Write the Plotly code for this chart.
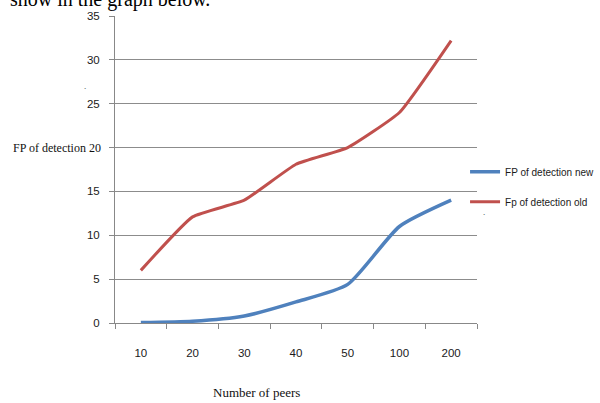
import plotly.graph_objects as go

categories = ["10", "20", "30", "40", "50", "100", "200"]
fp_new = [0.05, 0.2, 0.8, 2.4, 4.4, 11.0, 14.0]
fp_old = [6.0, 12.1, 14.0, 18.1, 20.0, 24.0, 32.2]
y_ticks = [0, 5, 10, 15, 20, 25, 30, 35]
y_tick_text = ["0", "5", "10", "15", "", "25", "30", "35"]

fig = go.Figure()
fig.add_trace(go.Scatter(x=categories, y=fp_new, mode="lines", name="FP of detection new",
                         legendgroup="a",
                         line=dict(color="#4F81BD", width=3.5, shape="spline", smoothing=0.6)))
fig.add_trace(go.Scatter(x=categories, y=fp_old, mode="lines", name="Fp of detection old",
                         legendgroup="b",
                         line=dict(color="#C0504D", width=3, shape="spline", smoothing=0.4)))

tick_font = dict(family="Liberation Sans", size=11.5, color="#1a1a1a")
fig.update_layout(
    width=600, height=403,
    margin=dict(l=115, r=123, t=16, b=80, autoexpand=False),
    paper_bgcolor="white", plot_bgcolor="white",
    showlegend=True,
    legend=dict(x=0.967, y=0.54, xanchor="left", yanchor="top", xref="paper",
                font=dict(family="Liberation Sans", size=10, color="#1a1a1a"),
                itemwidth=30, tracegroupgap=11, bgcolor="rgba(0,0,0,0)"),
    xaxis=dict(type="category", range=[-0.5, 6.5], showgrid=False, automargin=False,
               showline=True, linecolor="#888", linewidth=1,
               ticks="outside", ticklen=5, tickcolor="#888", tickson="boundaries",
               tickfont=tick_font, ticklabelstandoff=19),
    yaxis=dict(range=[0, 35], tickvals=y_ticks, ticktext=y_tick_text,
               showgrid=True, gridcolor="#8c8c8c", gridwidth=1,
               automargin=False,
               showline=True, linecolor="#888", linewidth=1, zeroline=False,
               ticks="outside", ticklen=5, tickcolor="#888",
               tickfont=tick_font, ticklabelstandoff=7),
)

fig.add_annotation(text="Number of peers", xref="paper", yref="paper", x=0, y=0,
                   xanchor="center", yanchor="middle", xshift=141, yshift=-69, showarrow=False,
                   font=dict(family="Liberation Serif", size=13, color="#111"))
fig.add_annotation(text="FP of detection 20", xref="paper", yref="y", x=0, y=20,
                   xanchor="right", yanchor="middle", xshift=-12, showarrow=False,
                   font=dict(family="Liberation Serif", size=12, color="#111"))
fig.add_annotation(text="show in the graph below.", xref="paper", yref="paper", x=0, y=1,
                   xanchor="left", yanchor="bottom", xshift=-107, yshift=3, showarrow=False,
                   font=dict(family="Liberation Serif", size=20, color="#000"))
fig.add_annotation(text=".", xref="paper", yref="y", x=0, y=27, xshift=-33, showarrow=False,
                   font=dict(family="Liberation Serif", size=9, color="#333"))
fig.add_annotation(text=".", xref="paper", yref="y", x=1, y=12.6, xshift=10, showarrow=False,
                   font=dict(family="Liberation Serif", size=9, color="#333"))

fig.write_html("out.html", config={"displayModeBar": False},
               post_script="document.body.style.margin='0';document.body.style.padding='0';")
